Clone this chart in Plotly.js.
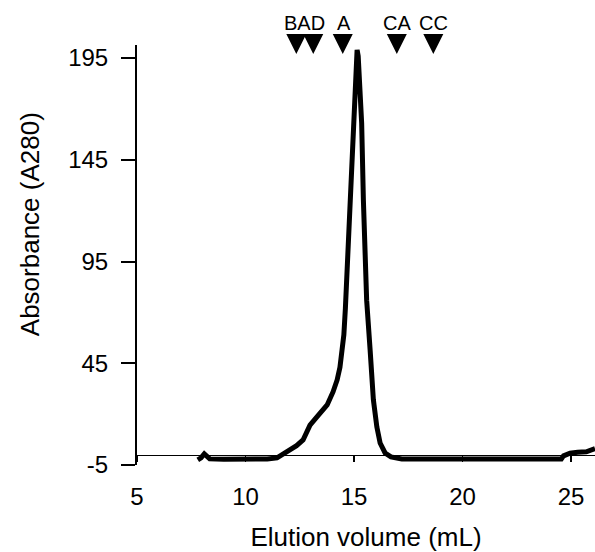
<!DOCTYPE html>
<html>
<head>
<meta charset="utf-8">
<script src="https://cdn.plot.ly/plotly-3.0.1.min.js"></script>
<style>html,body{margin:0;padding:0;background:#fff;}#chart{width:595px;height:552px;}</style>
</head>
<body>
<div id="chart"></div>
<script>
// Elution profile (Elution volume in mL, Absorbance A280)
var elutionVolume = [7.8, 7.95, 8.1, 8.2, 8.35, 9.0, 10.0, 11.0, 11.45, 11.68, 12.05, 12.35, 12.65, 12.97, 13.29, 13.55, 13.76, 14.03, 14.22, 14.35, 14.45, 14.53, 14.6, 14.7, 14.82, 14.94, 15.04, 15.1, 15.14, 15.19, 15.26, 15.35, 15.43, 15.58, 15.74, 15.89, 16.05, 16.2, 16.43, 16.7, 17.2, 18.0, 20.0, 22.0, 24.0, 24.55, 24.65, 24.95, 25.3, 25.7, 26.1];
var absorbance    = [-2.5, -1.5, 0.5, -0.5, -2.0, -2.2, -2.2, -2.0, -1.5, 0.0, 2.4, 4.5, 7.3, 14.6, 18.6, 21.5, 24.5, 30.9, 36.8, 43.0, 50.0, 59.0, 72.0, 98.0, 130.0, 160.0, 184.0, 195.0, 199.0, 196.0, 185.0, 163.0, 125.0, 76.0, 51.5, 27.0, 13.7, 5.8, 0.9, -1.0, -2.0, -2.0, -2.0, -2.0, -2.0, -2.0, -0.5, 0.8, 1.3, 1.5, 3.0];

// Calibration standards (marker positions)
var standardVolume = [12.34, 13.12, 14.48, 16.97, 18.65];
var markerLevel    = [197.0, 197.0, 197.0, 197.0, 197.0];
var labelText      = ["BAD", "A", "CA", "CC"];
var labelVolume    = [12.73, 14.55, 16.97, 18.65];
var labelLevel     = 201.0;

var xTicks = [5, 10, 15, 20, 25];
var yTicks = [-5, 45, 95, 145, 195];
var xRange = [5, 26.1];
var yRange = [-5, 201.4];

var font = "Liberation Sans, Arial, Helvetica, sans-serif";

var traces = [
  {
    x: elutionVolume, y: absorbance, type: "scatter", mode: "lines",
    line: {color: "#000", width: 5, shape: "linear"},
    hoverinfo: "skip", cliponaxis: false
  },
  {
    x: standardVolume, y: markerLevel, type: "scatter", mode: "markers",
    marker: {symbol: "arrow-down", size: 20, color: "#000", line: {width: 0}},
    cliponaxis: false, hoverinfo: "skip"
  }
];

var labelAnnotations = labelText.map(function (t, i) {
  return {
    text: t, xref: "x", yref: "y", x: labelVolume[i], y: labelLevel,
    yshift: 23, xanchor: "center", yanchor: "middle", showarrow: false,
    font: {family: font, size: 20, color: "#000"}
  };
});

var layout = {
  width: 595, height: 552,
  margin: {l: 137, r: 0, t: 45, b: 87, pad: 0},
  paper_bgcolor: "#fff", plot_bgcolor: "#fff",
  showlegend: false,
  font: {family: font, color: "#000"},
  xaxis: {
    range: xRange, anchor: "free",
    position: (0 - yRange[0]) / (yRange[1] - yRange[0]),
    showline: true, linecolor: "#000", linewidth: 1.5,
    ticks: "outside", ticklen: 6, tickwidth: 1.5, tickcolor: "#000",
    tickvals: xTicks, ticktext: xTicks.map(String),
    tickfont: {family: font, size: 24, color: "#000"},
    ticklabelstandoff: 14,
    showgrid: false, zeroline: false,
    title: {text: "Elution volume (mL)", font: {family: font, size: 26, color: "#000"}, standoff: 20}
  },
  yaxis: {
    range: yRange,
    showline: true, linecolor: "#000", linewidth: 2,
    ticks: "outside", ticklen: 14, tickwidth: 2, tickcolor: "#000",
    tickvals: yTicks, ticktext: yTicks.map(String),
    tickfont: {family: font, size: 24, color: "#000"},
    ticklabelstandoff: 8,
    showgrid: false, zeroline: false
  },
  annotations: [{
    text: "Absorbance (A280)", textangle: -90,
    xref: "paper", yref: "paper", x: -0.233, y: 0.574,
    xanchor: "center", yanchor: "middle", showarrow: false,
    font: {family: font, size: 26, color: "#000"}
  }].concat(labelAnnotations)
};

Plotly.newPlot("chart", traces, layout, {displayModeBar: false, staticPlot: true});
</script>
</body>
</html>
